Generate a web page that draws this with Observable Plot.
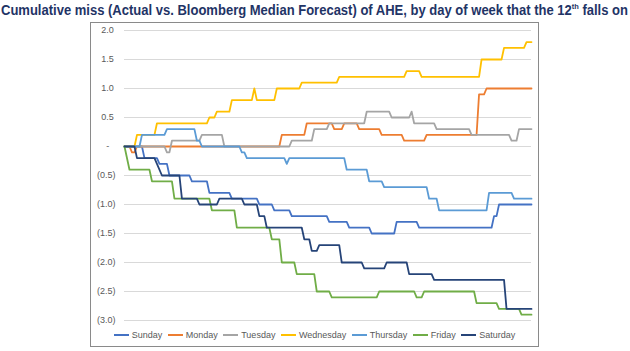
<!DOCTYPE html>
<html><head><meta charset="utf-8">
<script src="https://cdn.jsdelivr.net/npm/d3@7"></script>
<script src="https://cdn.jsdelivr.net/npm/@observablehq/plot@0.6"></script>
<style>
html,body{margin:0;padding:0;background:#fff;}
#wrap{position:relative;width:630px;height:351px;overflow:hidden;font-family:"Liberation Sans",Arial,sans-serif;}
#chart{position:absolute;left:0;top:0;}
#box{position:absolute;left:90px;top:22px;width:449px;height:325px;border:1px solid #8a8a8a;box-sizing:border-box;}
#title{position:absolute;left:1px;top:2px;white-space:nowrap;font-family:"Liberation Sans Narrow","Arial Narrow","Liberation Sans",Arial,sans-serif;font-weight:bold;font-size:14px;line-height:16px;color:#1f3466;transform-origin:0 0;}
#title sup{font-size:8px;line-height:0;vertical-align:6px;}
#legend{position:absolute;left:90px;width:449px;top:329px;display:flex;justify-content:center;gap:5.5px;font-size:9px;color:#595959;line-height:12px;}
.item{display:flex;align-items:center;white-space:nowrap;}
.sw{width:15px;height:2px;margin-right:3px;}
</style></head><body>
<div id="wrap">
<div id="chart"></div>
<div id="box"></div>
<div id="title">Cumulative miss (Actual vs. Bloomberg Median Forecast) of AHE, by day of week that the 12<sup>th</sup> falls on</div>
<div id="legend"></div>
</div>
<script>
const days = ["Sunday","Monday","Tuesday","Wednesday","Thursday","Friday","Saturday"];
const colors = ["#4472C4","#ED7D31","#A5A5A5","#FFC000","#5B9BD5","#70AD47","#264478"];
const yTicks = [-3,-2.5,-2,-1.5,-1,-0.5,0,0.5,1,1.5,2];
const yTickLabels = ["(3.0)","(2.5)","(2.0)","(1.5)","(1.0)","(0.5)","-","0.5","1.0","1.5","2.0"];
const monthCount = 163;

// [month index, cumulative miss] at each vertex of the series
const sunday = [[0,0],[7,0],[8,-0.2],[13,-0.2],[14,-0.3],[17,-0.3],[18,-0.5],[26,-0.5],[27,-0.6],[33,-0.6],[34,-0.8],[42,-0.8],[43,-0.9],[53,-0.9],[54,-1.0],[59,-1.0],[60,-1.1],[66,-1.1],[67,-1.2],[81,-1.2],[82,-1.3],[89,-1.3],[90,-1.4],[98,-1.4],[99,-1.5],[108,-1.5],[109,-1.3],[117,-1.3],[118,-1.4],[147,-1.4],[148,-1.2],[149,-1.2],[150,-1.0],[163,-1.0]];
const monday = [[0,0],[2,0],[3,-0.1],[4,-0.1],[5,0],[62,0],[63,0.2],[72,0.2],[73,0.4],[83,0.4],[84,0.3],[87,0.3],[88,0.4],[93,0.4],[94,0.3],[102,0.3],[103,0.2],[111,0.2],[112,0.1],[120,0.1],[121,0.2],[141,0.2],[142,0.9],[144,0.9],[145,1.0],[163,1.0]];
const tuesday = [[0,0],[16,0],[17,-0.1],[18,-0.1],[19,0.1],[30,0.1],[31,0.2],[39,0.2],[40,0],[66,0],[67,0.1],[75,0.1],[76,0.3],[81,0.3],[82,0.4],[96,0.4],[97,0.6],[106,0.6],[107,0.5],[114,0.5],[115,0.6],[116,0.4],[124,0.4],[125,0.3],[138,0.3],[139,0.2],[154,0.2],[155,0.1],[157,0.1],[158,0.3],[163,0.3]];
const wednesday = [[0,0],[4,0],[5,0.2],[12,0.2],[13,0.4],[33,0.4],[34,0.5],[36,0.5],[37,0.6],[42,0.6],[43,0.8],[51,0.8],[52,1.0],[53,0.8],[60,0.8],[61,1.0],[70,1.0],[71,1.1],[85,1.1],[86,1.2],[112,1.2],[113,1.3],[118,1.3],[119,1.2],[142,1.2],[143,1.5],[151,1.5],[152,1.7],[160,1.7],[161,1.8],[163,1.8]];
const thursday = [[0,0],[6,0],[7,0.2],[16,0.2],[17,0.3],[28,0.3],[29,0.1],[30,0.1],[31,0],[46,0],[47,-0.1],[48,-0.1],[49,-0.2],[64,-0.2],[65,-0.3],[66,-0.2],[88,-0.2],[89,-0.4],[97,-0.4],[98,-0.6],[103,-0.6],[104,-0.7],[121,-0.7],[122,-0.9],[125,-0.9],[126,-1.1],[145,-1.1],[146,-0.8],[155,-0.8],[156,-0.9],[163,-0.9]];
const friday = [[0,0],[2,-0.4],[10,-0.4],[11,-0.6],[19,-0.6],[20,-0.9],[34,-0.9],[35,-1.1],[44,-1.1],[45,-1.4],[58,-1.4],[59,-1.6],[62,-1.6],[63,-2.0],[68,-2.0],[69,-2.2],[76,-2.2],[77,-2.5],[82,-2.5],[83,-2.6],[101,-2.6],[102,-2.5],[116,-2.5],[117,-2.6],[119,-2.6],[120,-2.5],[140,-2.5],[141,-2.7],[149,-2.7],[150,-2.8],[158,-2.8],[159,-2.9],[163,-2.9]];
const saturday = [[0,0],[4,0],[5,-0.2],[12,-0.2],[13,-0.3],[15,-0.5],[22,-0.5],[23,-0.9],[29,-0.9],[30,-1.0],[37,-1.0],[38,-0.9],[47,-0.9],[48,-1.0],[53,-1.0],[54,-1.2],[56,-1.2],[57,-1.4],[71,-1.4],[72,-1.6],[74,-1.6],[75,-1.8],[77,-1.8],[78,-1.7],[86,-1.7],[87,-2.0],[95,-2.0],[96,-2.1],[104,-2.1],[105,-2.0],[113,-2.0],[114,-2.2],[123,-2.2],[124,-2.3],[152,-2.3],[153,-2.8],[163,-2.8]];

const seriesPoints = [sunday, monday, tuesday, wednesday, thursday, friday, saturday];
const labelOf = new Map(yTicks.map((t, i) => [t, yTickLabels[i]]));
const pad = t => t > 0 ? "\u2009" : (t === 0 ? "\u2002\u2009" : "");

const chart = Plot.plot({
  width: 630, height: 351,
  marginLeft: 124, marginRight: 99, marginTop: 30, marginBottom: 31,
  style: {background: "transparent", fontFamily: "'Liberation Sans', Arial, sans-serif", fontSize: "9px", color: "#595959"},
  x: {domain: [0, monthCount], axis: null},
  y: {domain: [-3, 2], label: null},
  marks: [
    Plot.ruleY(yTicks, {stroke: "#d9d9d9", strokeWidth: 1}),
    Plot.axisY({ticks: yTicks, tickFormat: t => labelOf.get(t) + pad(t), tickSize: 0, tickPadding: 9, label: null, fontSize: 9, fill: "#595959"}),
    ...seriesPoints.map((pts, i) => Plot.line(pts, {x: d => d[0], y: d => d[1], stroke: colors[i], strokeWidth: 1.8, strokeLinejoin: "round"}))
  ]
});
document.getElementById("chart").appendChild(chart);

const legend = document.getElementById("legend");
days.forEach((d, i) => {
  const it = document.createElement("div");
  it.className = "item";
  it.innerHTML = `<span class="sw" style="background:${colors[i]}"></span><span>${d}</span>`;
  legend.appendChild(it);
});

const title = document.getElementById("title");
const w = title.getBoundingClientRect().width;
title.style.transform = `scaleX(${627 / w})`;
</script>
</body></html>
